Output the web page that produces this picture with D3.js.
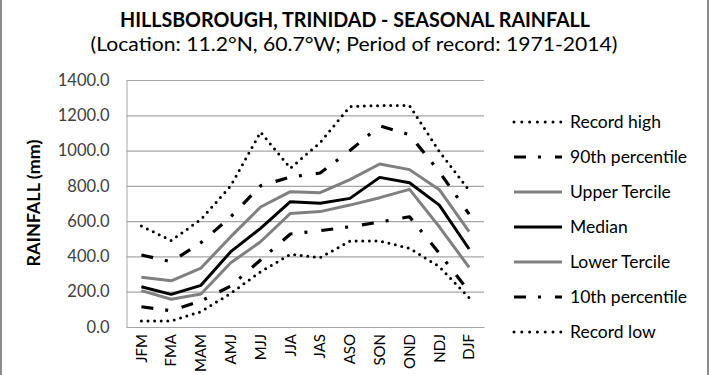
<!DOCTYPE html>
<html><head><meta charset="utf-8">
<script src="https://cdn.jsdelivr.net/npm/d3@7"></script>
<style>body{margin:0;background:#fff;}svg{display:block;font-family:Lato,"Open Sans",sans-serif;}</style>
</head><body>
<svg id="c" width="710" height="375"></svg>
<script>
const seasons = ["JFM","FMA","MAM","AMJ","MJJ","JJA","JAS","ASO","SON","OND","NDJ","DJF"];
const recordHigh   = [572, 490, 610, 800, 1105, 900, 1045, 1250, 1255, 1255, 995, 775];
const pct90        = [408, 370, 478, 625, 800, 850, 873, 1000, 1140, 1090, 880, 640];
const upperTercile = [282, 262, 334, 512, 680, 767, 761, 835, 924, 892, 778, 540];
const median       = [228, 185, 236, 427, 559, 710, 701, 729, 848, 818, 691, 442];
const lowerTercile = [206, 157, 187, 364, 483, 644, 654, 691, 733, 780, 568, 338];
const pct10        = [115,  92, 148, 232, 380, 527, 546, 568, 595, 625, 418, 200];
const recordLow    = [ 34,  34,  87, 191, 313, 412, 393, 487, 487, 446, 342, 165];
const yTicks = [0,200,400,600,800,1000,1200,1400];

const series = [
  {name:"Record high", values:recordHigh, color:"#000", width:3, dash:"0 6.6", cap:"round"},
  {name:"90th percentile", values:pct90, color:"#000", width:3.2, dash:"12 12 3 14", cap:"butt"},
  {name:"Upper Tercile", values:upperTercile, color:"#808080", width:3, dash:null, cap:"butt"},
  {name:"Median", values:median, color:"#000", width:3, dash:null, cap:"butt"},
  {name:"Lower Tercile", values:lowerTercile, color:"#808080", width:3, dash:null, cap:"butt"},
  {name:"10th percentile", values:pct10, color:"#000", width:3.2, dash:"12 12 3 14", cap:"butt"},
  {name:"Record low", values:recordLow, color:"#000", width:3, dash:"0 6.6", cap:"round"}
];

const svg = d3.select("#c");
const L = 126.5, R = 484, T = 80, B = 327;
const x = d3.scaleBand().domain(seasons).range([L, R]);
const y = d3.scaleLinear().domain([0, 1400]).range([B, T]);

// frame sides
svg.append("line").attr("x1",1).attr("x2",1).attr("y1",0).attr("y2",375).attr("stroke","#8c8c8c").attr("stroke-width",2);
svg.append("line").attr("x1",708).attr("x2",708).attr("y1",0).attr("y2",375).attr("stroke","#8c8c8c").attr("stroke-width",2);

// titles (condensed to the reference width)
svg.append("text").attr("x",355).attr("y",27).attr("text-anchor","middle")
  .attr("font-size",21.5).attr("font-weight","bold").attr("fill","#000")
  .attr("textLength",470).attr("lengthAdjust","spacingAndGlyphs")
  .text("HILLSBOROUGH, TRINIDAD - SEASONAL RAINFALL");
svg.append("text").attr("x",354).attr("y",51).attr("text-anchor","middle")
  .attr("font-size",18.5).attr("fill","#000")
  .attr("textLength",527).attr("lengthAdjust","spacingAndGlyphs")
  .text("(Location: 11.2°N, 60.7°W; Period of record: 1971-2014)");

// gridlines
const yAxis = d3.axisLeft(y).tickValues(yTicks).tickSize(-(R-L)).tickPadding(17).tickFormat(d3.format(".1f"));
const gy = svg.append("g").attr("transform",`translate(${L},0)`).call(yAxis);
gy.select(".domain").attr("stroke","#a6a6a6");
gy.selectAll(".tick line").attr("stroke","#a6a6a6").attr("stroke-width",1.2);
gy.selectAll(".tick text").attr("font-size",16.5).attr("fill","#404040").attr("font-family","Lato, sans-serif");

// x axis
const xAxis = d3.axisBottom(x).tickSize(0).tickPadding(0);
const gx = svg.append("g").attr("transform",`translate(0,${B})`).call(xAxis);
gx.select(".domain").attr("stroke","#a6a6a6").attr("stroke-width",1.2);
gx.selectAll(".tick text").attr("font-size",15).attr("fill","#000").attr("font-family","Lato, sans-serif")
  .attr("transform","rotate(-90)").attr("text-anchor","end")
  .attr("x",-7).attr("y",0).attr("dy","0.35em");

// y title
svg.append("text").attr("transform","translate(40,203) rotate(-90)").attr("text-anchor","middle")
  .attr("font-size",16.5).attr("font-weight","bold").attr("fill","#000")
  .attr("textLength",127).attr("lengthAdjust","spacingAndGlyphs").text("RAINFALL (mm)");

// lines
const line = d3.line().x((d,i)=>x(seasons[i])+x.bandwidth()/2).y(d=>y(d));
series.forEach(s=>{
  svg.append("path").datum(s.values).attr("d",line).attr("fill","none")
    .attr("stroke",s.color).attr("stroke-width",s.width)
    .attr("stroke-dasharray",s.dash).attr("stroke-linecap",s.cap).attr("stroke-linejoin","round");
});

// legend
const lg = svg.append("g");
series.forEach((s,i)=>{
  const yy = 122 + i*35;
  lg.append("line").attr("x1",514).attr("x2",562).attr("y1",yy).attr("y2",yy)
    .attr("stroke",s.color).attr("stroke-width",s.width)
    .attr("stroke-dasharray",s.dash ? (s.cap==="round" ? "0 7.8" : "12 12 3 14") : null)
    .attr("stroke-linecap",s.cap);
  lg.append("text").attr("x",570).attr("y",yy).attr("dy","0.35em")
    .attr("font-size",17.5).attr("fill","#000").text(s.name);
});
</script>
</body></html>
